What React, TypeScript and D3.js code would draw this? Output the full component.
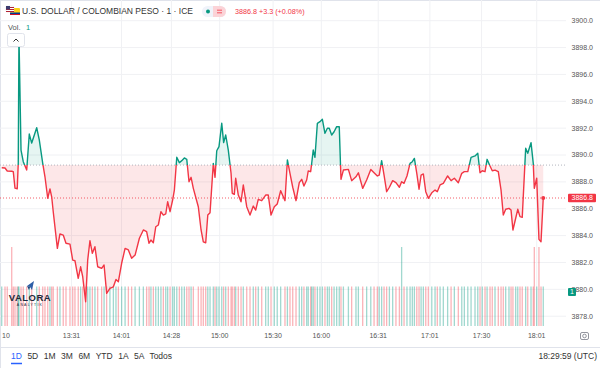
import React from "react";
import * as d3 from "d3";

// position of each traced point, in 1-minute bars from the 13:31 bar
const barPos = [
  -40.5,-38.6,-37.3,-34.7,-33.8,-32.8,-31.5,-30.9,-30.5,-29.3,
  -28.0,-26.0,-24.5,-23.1,-20.2,-18.7,-16.7,-15.4,-13.8,-12.5,
  -11.5,-10.6,-8.2,-6.7,-4.8,-3.2,-0.9,0.7,2.0,3.9,
  5.3,6.5,8.2,9.4,10.7,12.1,13.6,15.2,17.5,18.9,
  20.4,22.3,24.3,25.8,27.2,29.1,31.1,33.0,34.9,36.9,
  39.4,41.7,43.6,45.0,46.1,47.5,48.9,50.4,51.9,53.3,
  54.7,55.8,57.2,58.7,59.7,61.1,62.6,64.0,65.5,66.9,
  68.2,69.4,70.7,73.6,75.2,76.5,77.9,79.1,80.4,82.3,
  83.3,84.3,85.6,87.2,88.3,89.5,91.0,92.6,93.3,94.5,
  95.3,96.8,98.4,99.7,101.7,103.6,105.5,106.9,108.4,110.4,
  112.7,114.2,115.8,117.7,119.4,121.4,123.9,125.3,126.8,128.4,
  130.3,132.2,133.6,134.9,136.5,137.4,138.8,139.4,140.3,141.3,
  142.7,144.2,145.6,147.1,148.5,149.6,151.0,152.4,153.9,155.4,
  156.4,157.8,160.7,162.6,165.1,166.5,169.0,171.3,173.7,175.6,
  177.5,178.6,180.0,181.4,182.9,184.5,186.4,188.3,190.3,191.6,
  193.0,194.7,196.5,197.8,199.0,200.4,201.7,202.9,204.2,205.6,
  207.1,209.1,211.0,212.3,213.9,215.8,218.3,220.3,222.2,224.5,
  226.5,228.0,230.0,231.9,234.2,235.8,237.1,238.4,240.0,241.2,
  242.9,244.2,245.8,247.7,249.3,250.6,252.0,253.9,255.1,256.2,
  257.8,259.0,260.3,261.6,263.6,264.8,266.7,268.0,268.6,270.0,
  271.3,272.5,273.8,
];

const prices = [
  3889.05,3889.03,3888.81,3888.79,3888.76,3887.54,3887.49,3889.40,3898.90,3890.37,
  3889.50,3888.88,3891.56,3890.89,3892.03,3891.12,3889.38,3888.38,3886.78,3887.47,
  3886.89,3885.78,3883.05,3884.12,3884.04,3883.43,3883.37,3882.18,3882.13,3880.82,
  3881.68,3880.94,3879.08,3882.18,3883.62,3882.68,3883.17,3881.68,3881.56,3881.81,
  3879.70,3880.07,3880.19,3880.74,3880.57,3881.94,3883.05,3882.93,3882.31,3882.55,
  3883.80,3884.42,3884.29,3883.43,3883.67,3883.47,3884.66,3884.79,3885.78,3885.53,
  3885.61,3886.52,3885.78,3886.65,3887.39,3889.83,3889.43,3889.58,3889.78,3889.68,
  3888.01,3888.34,3887.52,3886.15,3884.42,3883.54,3883.47,3885.53,3885.70,3889.38,
  3888.34,3890.32,3890.62,3892.36,3890.92,3891.49,3890.37,3888.64,3887.15,3887.07,
  3888.27,3887.02,3886.52,3887.77,3886.15,3885.53,3886.20,3885.90,3886.70,3886.60,
  3887.02,3887.02,3885.53,3886.15,3886.35,3887.34,3886.60,3889.63,3888.64,3887.60,
  3886.60,3887.94,3888.19,3887.69,3888.14,3888.81,3888.76,3889.38,3890.37,3889.83,
  3892.36,3892.48,3892.66,3891.62,3891.99,3891.99,3891.49,3891.73,3892.11,3892.11,
  3888.19,3888.88,3888.93,3888.09,3888.38,3888.68,3887.52,3888.14,3888.93,3888.68,
  3888.44,3888.51,3889.58,3888.51,3887.27,3887.60,3888.09,3887.94,3887.60,3888.01,
  3887.89,3888.44,3889.38,3889.50,3889.75,3888.64,3887.45,3888.51,3888.59,3887.27,
  3886.78,3887.19,3887.39,3887.27,3887.77,3887.89,3888.44,3888.09,3888.27,3887.94,
  3888.64,3888.76,3888.76,3889.83,3889.93,3890.13,3888.68,3888.83,3888.76,3889.68,
  3889.18,3888.83,3888.88,3888.76,3887.39,3885.53,3885.96,3886.03,3885.90,3884.42,
  3885.29,3885.96,3885.41,3885.36,3890.50,3890.13,3890.92,3889.38,3887.52,3888.27,
  3883.72,3883.54,3886.80,
];

const volumes = [
  1,1,1,2,1,1,1,1,1,1,1,1,1,1,1,1,1,1,1,1,
  1,1,1,1,1,1,1,1,1,1,1,1,1,1,1,1,1,1,1,1,
  1,1,1,1,1,1,1,1,1,1,1,1,1,1,1,1,1,1,1,1,
  1,1,1,1,1,1,1,1,1,1,1,1,1,1,1,1,1,1,1,1,
  1,1,1,1,1,1,1,1,1,1,1,1,1,1,1,1,1,1,1,1,
  1,1,1,1,1,1,1,1,1,1,1,1,1,1,1,1,1,1,1,1,
  1,1,1,1,1,1,1,1,1,1,1,1,1,1,1,1,1,1,1,1,
  1,1,1,1,1,1,1,1,1,2,1,1,1,1,1,1,1,1,1,1,
  1,1,1,1,1,1,1,1,1,1,1,1,1,1,1,1,1,1,1,1,
  1,1,1,1,1,1,1,1,1,1,1,1,1,1,1,1,1,1,2,1,
  2,1,1,
];

const timeTickLabels = ["10", "13:31", "14:01", "14:28", "15:00", "15:30", "16:00", "16:31", "17:01", "17:30", "18:01"];
const timeTickBars = [-38, 0, 29, 58, 86, 117, 145, 178, 208, 238, 270];
const priceTicks = [3878, 3880, 3882, 3884, 3886, 3888, 3890, 3892, 3894, 3896, 3898, 3900];
const baseLevel = 3889.25;
const lastPrice = 3886.8;
const lastVolume = 1;
const changeAbs = 3.3;
const changePct = 0.08;
const title = "U.S. DOLLAR / COLOMBIAN PESO · 1 · ICE";
const ranges = ["1D", "5D", "1M", "3M", "6M", "YTD", "1A", "5A", "Todos"];
const clockText = "18:29:59 (UTC)";

const GREEN = "#089981";
const RED = "#f23645";
const FONT = "'Liberation Sans', Arial, sans-serif";

export default function App() {
  const W = 600, H = 368;
  const plotRight = 566;
  const plotBottom = 326;
  const x = d3.scaleLinear().domain([-41.5, 287]).range([0, plotRight]);
  const y = d3.scaleLinear().domain([3878, 3900]).range([316.2, 20.7]);
  const vy = d3.scaleLinear().domain([0, 2]).range([plotBottom, 247]);

  const data = barPos.map((b, i) => ({ b, v: prices[i], vol: volumes[i], up: i === 0 ? true : prices[i] >= prices[i - 1] }));
  const yb = y(baseLevel);
  const line = d3.line<any>().x((d) => x(d.b)).y((d) => y(d.v));
  const area = d3.area<any>().x((d) => x(d.b)).y0(yb).y1((d) => y(d.v));
  const linePath = line(data) || "";
  const areaPath = area(data) || "";
  const last = data[data.length - 1];

  const rangeItems = ranges.map((r, i) => ({ r, active: i === 0 }));

  return (
    <div style={{ position: "fixed", left: 0, top: 0, width: W, height: H, background: "#fff" }}>
      <svg width={W} height={H} style={{ display: "block", fontFamily: FONT }}>
        <defs>
          <clipPath id="above"><rect x={0} y={0} width={plotRight} height={yb} /></clipPath>
          <clipPath id="below"><rect x={0} y={yb} width={plotRight} height={plotBottom - yb} /></clipPath>
          <clipPath id="plot"><rect x={0} y={0} width={plotRight} height={plotBottom} /></clipPath>
        </defs>
        <rect x={0} y={0} width={W} height={H} fill="#fff" />
        <line x1={0} x2={W} y1={0.5} y2={0.5} stroke="#e0e3eb" />
        <line x1={0.5} x2={0.5} y1={0} y2={H} stroke="#e0e3eb" />

        {/* grid */}
        {priceTicks.map((p) => (
          <line key={"h" + p} x1={0} x2={plotRight} y1={y(p)} y2={y(p)} stroke="#f0f1f4" />
        ))}
        {timeTickBars.slice(1).map((b) => (
          <line key={"v" + b} x1={x(b)} x2={x(b)} y1={0} y2={plotBottom} stroke="#f0f1f4" />
        ))}

        {/* volume */}
        <g clipPath="url(#plot)">
          {data.map((d, i) => (
            <rect key={"vb" + i} x={x(d.b) - 0.65} width={1.3} y={vy(d.vol)} height={plotBottom - vy(d.vol)}
              fill={d.up ? "rgba(8,153,129,0.38)" : "rgba(242,54,69,0.38)"} />
          ))}
        </g>

        {/* baseline area */}
        <path d={areaPath} fill="rgba(8,153,129,0.1)" clipPath="url(#above)" />
        <path d={areaPath} fill="rgba(242,54,69,0.12)" clipPath="url(#below)" />
        <line x1={0} x2={plotRight} y1={yb} y2={yb} stroke="#b2b5be" strokeDasharray="1,2" />
        <line x1={0} x2={plotRight} y1={y(lastPrice)} y2={y(lastPrice)} stroke={RED} strokeDasharray="1,2" opacity={0.8} />
        <path d={linePath} fill="none" stroke={GREEN} strokeWidth={1.4} strokeLinejoin="round" clipPath="url(#above)" />
        <path d={linePath} fill="none" stroke={RED} strokeWidth={1.4} strokeLinejoin="round" clipPath="url(#below)" />
        <circle cx={x(last.b)} cy={y(last.v)} r={2} fill={RED} />

        {/* price axis */}
        {priceTicks.map((p) => (
          <text key={"pl" + p} x={593} y={y(p)} dy="0.35em" fontSize={7} fill="#555" textAnchor="end">
            {p.toFixed(1)}
          </text>
        ))}
        <rect x={568} y={y(lastPrice) - 4.3} width={28} height={8.6} fill={RED} rx={1} />
        <text x={593} y={y(lastPrice)} dy="0.35em" fontSize={7} fill="#fff" textAnchor="end">{lastPrice.toFixed(1)}</text>
        <rect x={568} y={vy(lastVolume) + 1.5} width={8} height={8} fill={GREEN} rx={1} />
        <text x={572} y={vy(lastVolume) + 5.5} dy="0.35em" fontSize={7} fill="#fff" textAnchor="middle">{lastVolume}</text>

        {/* time axis */}
        {timeTickLabels.map((t, i) => (
          <text key={"tl" + i} x={i === 0 ? 6 : x(timeTickBars[i])} y={336} dy="0.35em" fontSize={7} fill="#555" textAnchor="middle">
            {t}
          </text>
        ))}
        <rect x={580.5} y={332.5} width={8} height={7} rx={1.5} fill="none" stroke="#787b86" strokeWidth={0.8} />
        <circle cx={584.5} cy={336} r={1.8} fill="none" stroke="#787b86" strokeWidth={0.8} />
        <line x1={0} x2={W} y1={347.5} y2={347.5} stroke="#e0e3eb" />

        {/* bottom toolbar */}
        <text y={356} dy="0.35em" fontSize={8.5} fill="#333">
          {rangeItems.map((it, i) => (
            <tspan key={it.r} x={i === 0 ? 11 : undefined} dx={i === 0 ? 0 : 5.5} fill={it.active ? "#2962ff" : "#333"}>{it.r}</tspan>
          ))}
        </text>
        <line x1={11} x2={22} y1={363.5} y2={363.5} stroke="#2962ff" strokeWidth={1.5} />
        <text x={597} y={356} dy="0.35em" fontSize={8.5} fill="#333" textAnchor="end">{clockText}</text>

        {/* header */}
        <g>
          <rect x={10} y={8} width={10} height={7} rx={1} fill="#fcd116" />
          <rect x={10} y={12.5} width={10} height={1.5} fill="#003893" />
          <rect x={10} y={14} width={10} height={1} fill="#ce1126" />
          <rect x={6} y={6} width={8} height={6} rx={1} fill="#fff" stroke="#d0d0d0" strokeWidth={0.3} />
          <rect x={6} y={7} width={8} height={1} fill="#b22234" />
          <rect x={6} y={9} width={8} height={1} fill="#b22234" />
          <rect x={6} y={11} width={8} height={1} fill="#b22234" />
          <rect x={6} y={6} width={4} height={3.5} fill="#3c3b6e" />
        </g>
        <text x={22} y={11.5} dy="0.35em" fontSize={8.5} fill="#333">{title}</text>
        <rect x={202} y={6} width={24} height={11} rx={5.5} fill="#f0f3fa" />
        <rect x={213} y={6} width={13} height={11} rx={5.5} fill="#fbd3d7" />
        <rect x={213} y={6} width={5} height={11} fill="#fbd3d7" />
        <circle cx={208} cy={11.5} r={2} fill={GREEN} />
        <line x1={217} x2={222} y1={10.2} y2={10.2} stroke={RED} strokeWidth={0.8} />
        <line x1={217} x2={222} y1={12.8} y2={12.8} stroke={RED} strokeWidth={0.8} />
        <text x={235} y={11.5} dy="0.35em" fontSize={7.2} fill={RED}>
          {`${lastPrice.toFixed(1)} +${changeAbs.toFixed(1)} (+${changePct.toFixed(2)}%)`}
        </text>
        <text x={8} y={27} dy="0.35em" fontSize={7.5} fill="#555">Vol.</text>
        <text x={26} y={27} dy="0.35em" fontSize={7.5} fill={GREEN}>{lastVolume}</text>
        <rect x={7.5} y={33.5} width={17} height={13} rx={2} fill="#fff" stroke="#e0e3eb" />
        <path d="M13.5,41.5 L16,39 L18.5,41.5" fill="none" stroke="#333" strokeWidth={1} />

        {/* logo */}
        <g>
          <path d="M27,286 L34,281 L32,290 L30,287 Z" fill="#2d5fa8" />
          <path d="M27,286 L30,287 L29,290 Z" fill="#1b3f7a" />
          <text x={30} y={298} dy="0.35em" fontSize={9.5} fontWeight="bold" fill="#1e2a3a" textAnchor="middle" letterSpacing={0.5}>VALORA</text>
          <text x={30} y={305} dy="0.35em" fontSize={3.5} fill="#1e2a3a" textAnchor="middle" letterSpacing={1.2}>ANALYTIK</text>
        </g>
      </svg>
    </div>
  );
}
